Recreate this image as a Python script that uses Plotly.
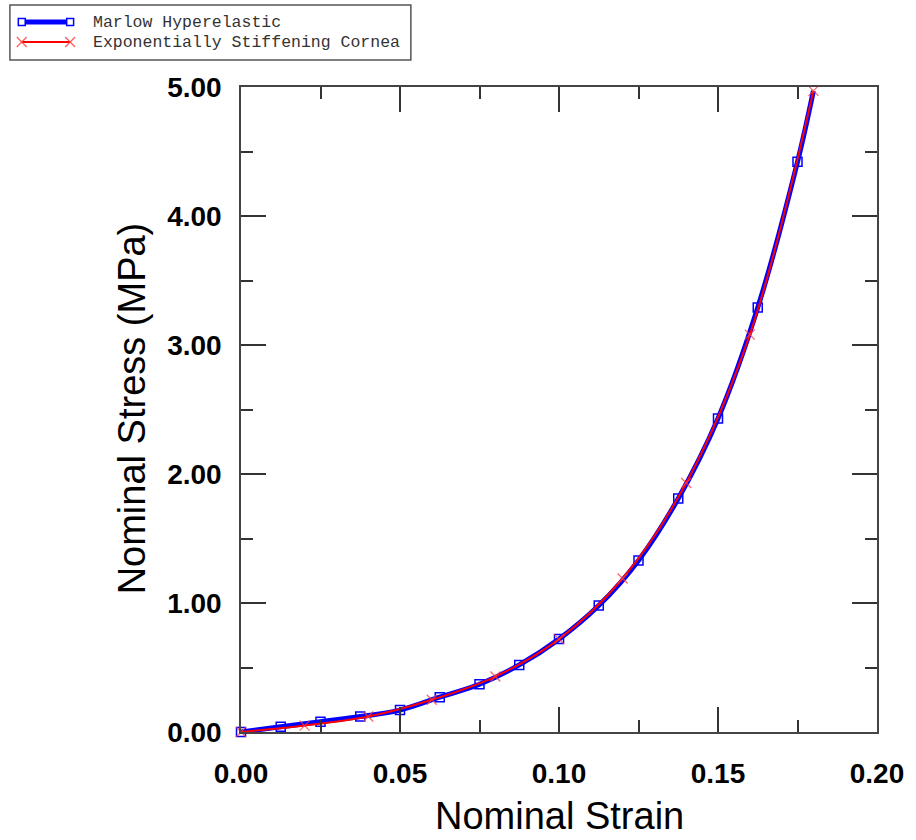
import plotly.graph_objects as go

# Data
marlow_strain = [0.0, 0.0125, 0.025, 0.0375, 0.05, 0.0625, 0.075, 0.0875, 0.10,
                 0.1125, 0.125, 0.1375, 0.15, 0.1625, 0.175, 0.18]
marlow_stress = [0.00, 0.04, 0.08, 0.12, 0.17, 0.27, 0.37, 0.52, 0.72,
                 0.98, 1.33, 1.81, 2.43, 3.29, 4.42, 4.97]
marlow_marker_strain = marlow_strain[:-1]
marlow_marker_stress = marlow_stress[:-1]

cornea_strain = [0.0, 0.02, 0.04, 0.06, 0.08, 0.10, 0.12, 0.14, 0.16, 0.18]
cornea_stress = [0.00, 0.05, 0.12, 0.25, 0.43, 0.72, 1.19, 1.93, 3.08, 4.97]

x_ticks = [0.0, 0.05, 0.10, 0.15, 0.20]
y_ticks = [0.0, 1.0, 2.0, 3.0, 4.0, 5.0]

legend_names = ["Marlow Hyperelastic", "Exponentially Stiffening Cornea"]

BLUE = "rgb(0,0,255)"
RED = "rgb(255,0,0)"

fig = go.Figure()
fig.add_trace(go.Scatter(x=marlow_strain, y=marlow_stress, mode="lines",
                         line=dict(color=BLUE, width=5, shape="spline"),
                         name=legend_names[0], showlegend=False, cliponaxis=True))
fig.add_trace(go.Scatter(x=marlow_marker_strain, y=marlow_marker_stress, mode="markers",
                         marker=dict(symbol="square-open", size=9, color=BLUE,
                                     line=dict(width=1.5, color=BLUE)),
                         showlegend=False, cliponaxis=False))
fig.add_trace(go.Scatter(x=cornea_strain, y=cornea_stress, mode="lines+markers",
                         line=dict(color=RED, width=2, shape="spline"),
                         marker=dict(symbol="x-thin", size=10,
                                     line=dict(width=1.2, color="rgba(255,60,60,0.8)")),
                         name=legend_names[1], showlegend=False, cliponaxis=False))

W, H = 916, 840
L, R, T, B = 241, 31, 87, 108
pw, ph = W - L - R, H - T - B

def px(x):
    return (x - L) / pw

def py(y):
    return (H - B - y) / ph

tick_font = dict(family="Liberation Sans, Arial, sans-serif", size=28, color="black", weight="bold")
title_font = dict(family="Liberation Sans, Arial, sans-serif", size=38, color="black")
axis_common = dict(showline=True, linecolor="#444", linewidth=1.5, mirror="ticks",
                   ticks="inside", ticklen=25, tickwidth=1.5, tickcolor="#333",
                   showgrid=False, zeroline=False, tickformat=".2f", tickfont=tick_font)

fig.update_xaxes(range=[0, 0.2], tickvals=x_ticks,
                 minor=dict(ticks="inside", ticklen=12, tickwidth=1.5, tickcolor="#333", dtick=0.025, showgrid=False),
                 ticklabelstandoff=16, **axis_common)
fig.update_yaxes(range=[0, 5], tickvals=y_ticks,
                 minor=dict(ticks="inside", ticklen=12, tickwidth=1.5, tickcolor="#333", dtick=0.5, showgrid=False),
                 ticklabelstandoff=12, **axis_common)

shapes = []
annotations = []
# custom legend box
shapes.append(dict(type="rect", xref="paper", yref="paper",
                   x0=px(7), x1=px(413), y0=py(60), y1=py(5),
                   line=dict(color="#555", width=1.5), fillcolor="white", layer="above"))
# legend row 1 (blue)
shapes.append(dict(type="line", xref="paper", yref="paper", x0=px(19), x1=px(68), y0=py(22), y1=py(22),
                   line=dict(color=BLUE, width=5)))
for cx in (19, 68):
    shapes.append(dict(type="rect", xref="paper", yref="paper", x0=px(cx - 3.5), x1=px(cx + 3.5),
                       y0=py(25.5), y1=py(18.5), line=dict(color=BLUE, width=1.5), fillcolor="white"))
# legend row 2 (red)
shapes.append(dict(type="line", xref="paper", yref="paper", x0=px(19), x1=px(68), y0=py(42), y1=py(42),
                   line=dict(color=RED, width=2)))
for cx in (19, 68):
    shapes.append(dict(type="line", xref="paper", yref="paper", x0=px(cx - 5), x1=px(cx + 5),
                       y0=py(37), y1=py(47), line=dict(color="rgba(255,60,60,0.85)", width=1.2)))
    shapes.append(dict(type="line", xref="paper", yref="paper", x0=px(cx - 5), x1=px(cx + 5),
                       y0=py(47), y1=py(37), line=dict(color="rgba(255,60,60,0.85)", width=1.2)))
leg_font = dict(family="Liberation Mono, Courier New, monospace", size=16.5, color="#333")
for name, yy in zip(legend_names, (22, 42)):
    annotations.append(dict(text=name, xref="paper", yref="paper", x=px(89), y=py(yy),
                            xanchor="left", yanchor="middle", showarrow=False, font=leg_font))
# axis titles
annotations.append(dict(text="Nominal Strain", xref="paper", yref="paper", x=0.5, y=py(816),
                        xanchor="center", yanchor="middle", showarrow=False, font=title_font))
annotations.append(dict(text="Nominal Stress (MPa)", xref="paper", yref="paper", x=px(131), y=py(408),
                        xanchor="center", yanchor="middle", showarrow=False, textangle=-90, font=title_font))

fig.update_layout(width=W, height=H, margin=dict(l=L, r=R, t=T, b=B),
                  paper_bgcolor="white", plot_bgcolor="white",
                  shapes=shapes, annotations=annotations, showlegend=False)

fig.write_html("out.html")
